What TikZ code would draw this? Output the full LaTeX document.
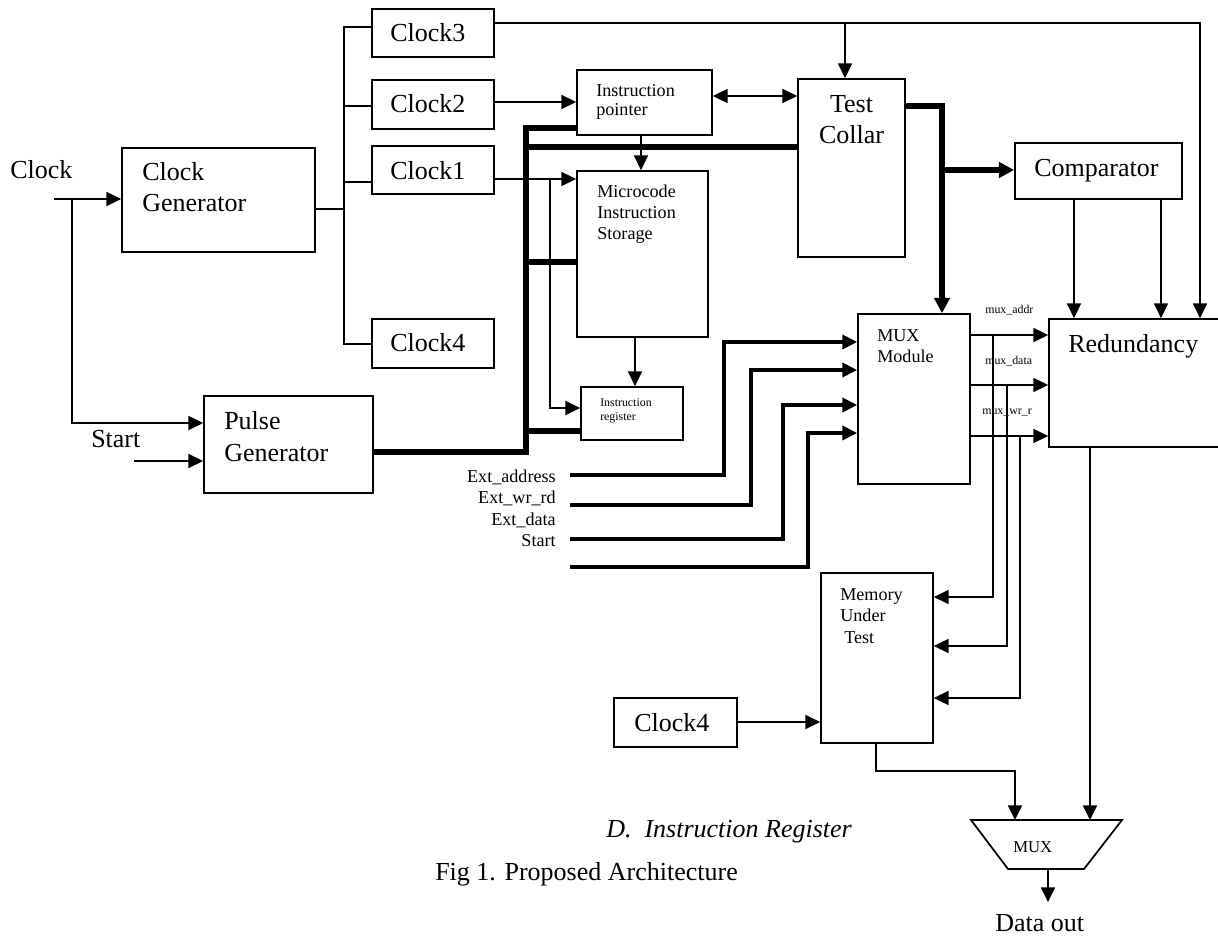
\documentclass[tikz,border=0pt]{standalone}
\usepackage{fontspec}
\setmainfont{Liberation Serif}
\usetikzlibrary{arrows.meta,fit}
\begin{document}
\begin{tikzpicture}[x=0.75pt,y=-0.75pt,
  box/.style={draw, line width=1.3pt, inner sep=0pt},
  wire/.style={line width=1.3pt},
  bus/.style={line width=3.8pt},
  inbus/.style={line width=2.5pt},
  arr/.style={-{Triangle[length=11pt,width=10.5pt]}},
  arrT/.style={-{Triangle[length=11.5pt,width=11.5pt]}},
  darr/.style={{Triangle[length=11pt,width=10.5pt]}-{Triangle[length=11pt,width=10.5pt]}},
  big/.style={font=\fontsize{19.5}{23}\selectfont, inner sep=0pt, anchor=base west},
  mid/.style={font=\fontsize{13.6}{16}\selectfont, inner sep=0pt, anchor=base west},
  sml/.style={font=\fontsize{8.9}{10}\selectfont, inner sep=0pt, anchor=base west}]
\useasboundingbox (0,0) rectangle (1218,937);
\clip (0,0) rectangle (1218,937);

% boxes
\node[box, fit={(122,148)(315,252)}] (clkgen) {};
\node[box, fit={(372,9)(494,57)}] (clkc) {};
\node[box, fit={(372,80)(494,129)}] (clkb) {};
\node[box, fit={(372,146)(494,194)}] (clka) {};
\node[box, fit={(372,319)(494,368)}] (clkd) {};
\node[box, fit={(204,396)(373,493)}] (pulse) {};
\node[box, fit={(577,70)(712,135)}] (ip) {};
\node[box, fit={(577,171)(708,337)}] (mcs) {};
\node[box, fit={(581,387)(683,440)}] (ir) {};
\node[box, fit={(798,79)(905,257)}] (tc) {};
\node[box, fit={(1015,143)(1182,199)}] (comp) {};
\node[box, fit={(858,314)(970,484)}] (mux) {};
\node[box, fit={(1049,319)(1240,447)}] (red) {};
\node[box, fit={(821,573)(933,743)}] (mut) {};
\node[box, fit={(614,698)(737,747)}] (clke) {};
\draw[line width=1.3pt] (971,820) coordinate (mxa) -- (1122,820) coordinate (mxb)
  -- (1084,869) coordinate (mxc) -- (1008,869) coordinate (mxd) -- cycle;
\coordinate (muxtop) at (1046,820);
\coordinate (muxbot) at (1048,869);

% texts
\node[big] (t1) at (10,179) {Clock};
\node[big] (t2) at (142,181) {Clock};
\node[big] (t3) at (142,212) {Generator};
\node[big] (t4) at (390,42) {Clock3};
\node[big] (t5) at (390,113) {Clock2};
\node[big] (t6) at (390,180) {Clock1};
\node[big] (t7) at (390,352) {Clock4};
\node[big] (t8) at (91,448) {Start};
\node[big] (t9) at (224,430) {Pulse};
\node[big] (t10) at (224,462) {Generator};
\node[big, anchor=base] (t11) at (851.5,113) {Test};
\node[big, anchor=base] (t12) at (851.5,144) {Collar};
\node[big] (t13) at (1034,177) {Comparator};
\node[big] (t14) at (1068,353) {Redundancy};
\node[big] (t15) at (634,731) {Clock4};
\node[big] (t16) at (606,837) {\itshape D.~~Instruction Register};
\node[big] (t17) at (435,880) {Fig 1. Proposed Architecture};
\node[big] (t18) at (995,931) {Data out};

\node[mid] (m1) at (596,97) {Instruction};
\node[mid] (m2) at (596,116) {pointer};
\node[mid] (m3) at (597,198) {Microcode};
\node[mid] (m4) at (597,219) {Instruction};
\node[mid] (m5) at (597,240) {Storage};
\node[mid] (m6) at (877,342) {MUX};
\node[mid] (m7) at (877,363) {Module};
\node[mid] (m8) at (840,601) {Memory};
\node[mid] (m9) at (840,622) {Under};
\node[mid] (m10) at (844,643) {Test};
\node[mid, anchor=base east] (m11) at (556,483) {Ext\_address};
\node[mid, anchor=base east] (m12) at (556,504) {Ext\_wr\_rd};
\node[mid, anchor=base east] (m13) at (556,526) {Ext\_data};
\node[mid, anchor=base east] (m14) at (556,547) {Start};

\node[sml] (s1) at (600,407) {Instruction};
\node[sml] (s2) at (600,421) {register};
\node[sml] (s3) at (985,314) {mux\_addr};
\node[sml] (s4) at (985,365) {mux\_data};
\node[sml] (s5) at (982,415) {mux\_wr\_r};
\node[font=\fontsize{12.5}{14}\selectfont, inner sep=0pt, anchor=base west] (s6) at (1013,852) {MUX};

% free ends / junctions
\coordinate (clkin) at (54,199);
\coordinate (clkbr) at (72,199);
\coordinate (startin) at (134,461);
\coordinate (e1) at (570,475);
\coordinate (e2) at (570,505);
\coordinate (e3) at (570,539);
\coordinate (e4) at (570,567);
\coordinate (doutp) at (1048,902);

% clock input and start
\draw[wire,arr] (clkin) -- (clkgen.west |- clkin);
\draw[wire,arr] (clkbr) |- (pulse.west |- 0,423);
\draw[wire,arr] (startin) -- (pulse.west |- startin);

% clock distribution
\draw[wire] (clkgen.east |- 0,209) -- (344,209);
\draw[wire] (clkc.west |- 0,27) -- (344,27) -- (344,344) -- (clkd.west |- 0,344);
\draw[wire] (344,106) -- (clkb.west |- 0,106);
\draw[wire] (344,182) -- (clka.west |- 0,182);

\draw[wire,arr] (clkc.east |- 0,23) -- (1200,23) -- (red.north -| 1200,0);
\draw[wire,arr] (845,23) -- (tc.north -| 845,0);
\draw[wire,arr] (clkb.east |- 0,102) -- (ip.west |- 0,102);
\draw[wire,darr] (ip.east |- 0,96) -- (tc.west |- 0,96);
\draw[wire,arr] (ip.south -| 641,0) -- (mcs.north -| 641,0);
\draw[wire,arr] (clka.east |- 0,179) -- (mcs.west |- 0,179);
\draw[wire,arr] (550,179) |- (ir.west |- 0,408);
\draw[wire,arr] (mcs.south -| 635,0) -- (ir.north -| 635,0);

% thick bus
\draw[bus] (pulse.east |- 0,452) -| (526,128) -- (ip.west |- 0,128);
\draw[bus] (526,147) -- (tc.west |- 0,147);
\draw[bus] (526,262) -- (mcs.west |- 0,262);
\draw[bus] (526,431) -- (ir.west |- 0,431);
\draw[bus,arrT] (tc.east |- 0,106) -| (mux.north -| 942,0);
\draw[bus,arrT] (942,170) -- (comp.west |- 0,170);

% comparator to redundancy
\draw[wire,arr] (comp.south -| 1074,0) -- (red.north -| 1074,0);
\draw[wire,arr] (comp.south -| 1161,0) -- (red.north -| 1161,0);

% mux outputs
\draw[wire,arr] (mux.east |- 0,335) -- (red.west |- 0,335);
\draw[wire,arr] (mux.east |- 0,385) -- (red.west |- 0,385);
\draw[wire,arr] (mux.east |- 0,436) -- (red.west |- 0,436);
\draw[wire,arr] (993,335) |- (mut.east |- 0,597);
\draw[wire,arr] (1007,385) |- (mut.east |- 0,646);
\draw[wire,arr] (1020,436) |- (mut.east |- 0,698);

% external inputs
\draw[inbus,arr] (e1) -| (724,342) -- (mux.west |- 0,342);
\draw[inbus,arr] (e2) -| (751,370) -- (mux.west |- 0,370);
\draw[inbus,arr] (e3) -| (783,405) -- (mux.west |- 0,405);
\draw[inbus,arr] (e4) -| (808,433) -- (mux.west |- 0,433);

% memory and output
\draw[wire,arr] (clke.east |- 0,722) -- (mut.west |- 0,722);
\draw[wire,arr] (mut.south -| 876,0) |- (1015,771) -- (muxtop -| 1015,0);
\draw[wire,arr] (red.south -| 1090,0) -- (muxtop -| 1090,0);
\draw[wire,arr] (muxbot) -- (doutp);
\end{tikzpicture}
\end{document}
